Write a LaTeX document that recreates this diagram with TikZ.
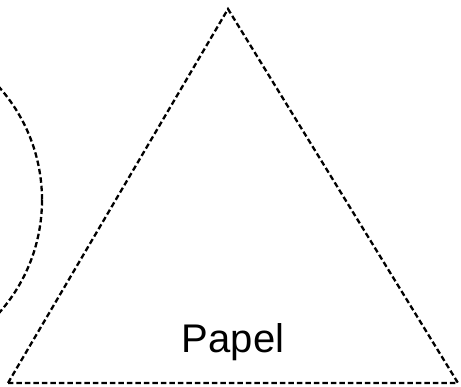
\documentclass[tikz,border=0pt]{standalone}
\usepackage{fontspec}
\setmainfont{Liberation Sans}
\tikzset{
  dashline/.style={line width=2.3pt, dash pattern=on 5.5pt off 3pt},
  label/.style={font=\fontsize{40}{44}\selectfont, anchor=base}
}
\begin{document}
\begin{tikzpicture}[x=1pt, y=-1pt]
  \useasboundingbox (0,0) rectangle (461,387);
  \clip (0,0) rectangle (461,387);
  % Circle (cut off on the left)
  \draw[dashline] (-128,200) circle (170);
  % Triangle
  \coordinate (apex) at (228,9);
  \coordinate (bl) at (8,383);
  \coordinate (br) at (458,383);
  \draw[dashline] (bl) -- (apex) -- (br) -- cycle;
  % Label
  \node[label] (papel) at (233,353) {Papel};
\end{tikzpicture}
\end{document}
